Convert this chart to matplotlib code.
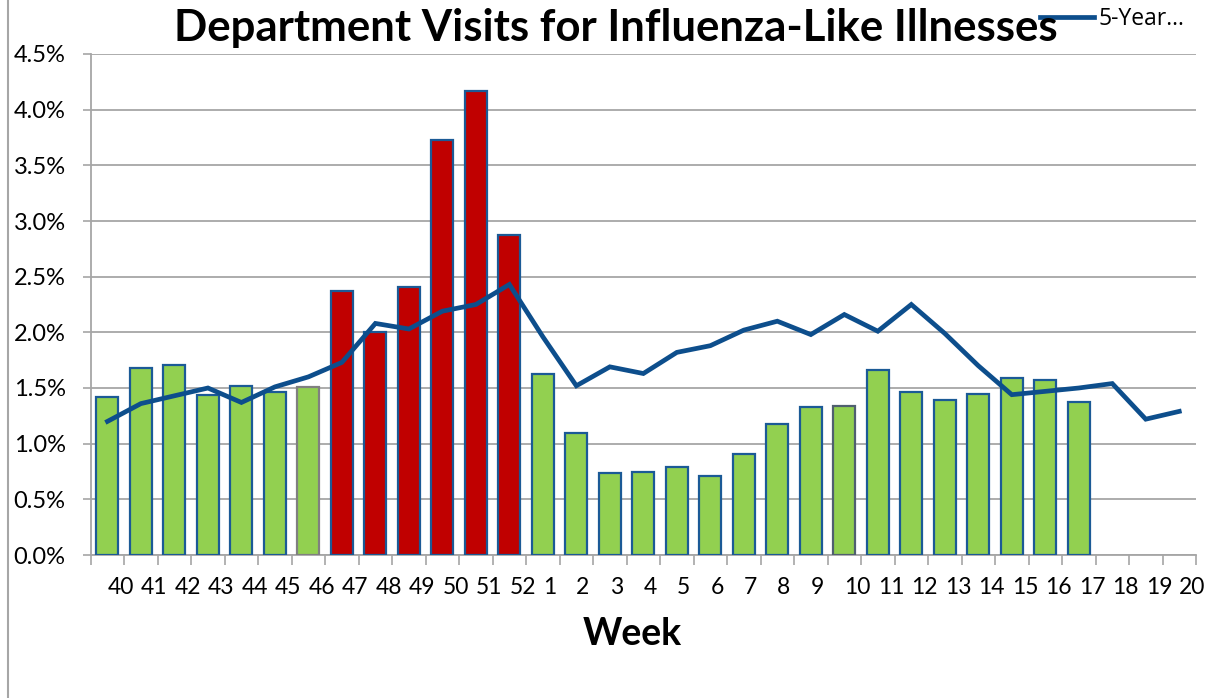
import matplotlib
matplotlib.use("Agg")
import matplotlib.pyplot as plt
from matplotlib.ticker import FuncFormatter, FixedLocator
from matplotlib.lines import Line2D

plt.rcParams['font.family'] = ['Lato', 'DejaVu Sans']

weeks = ["40", "41", "42", "43", "44", "45", "46", "47", "48", "49", "50", "51", "52",
         "1", "2", "3", "4", "5", "6", "7", "8", "9", "10", "11", "12", "13", "14",
         "15", "16", "17", "18", "19", "20"]

# current season ILI % (weeks 40..17)
current = [1.42, 1.68, 1.71, 1.44, 1.52, 1.46, 1.51, 2.37, 2.00, 2.41, 3.73, 4.17, 2.87,
           1.63, 1.10, 0.74, 0.75, 0.79, 0.71, 0.91, 1.18, 1.33, 1.34, 1.66, 1.46, 1.39,
           1.45, 1.59, 1.57, 1.37]

# 5-year average (weeks 40..20)
five_year = [1.20, 1.36, 1.43, 1.50, 1.37, 1.51, 1.60, 1.73, 2.08, 2.03, 2.19, 2.25, 2.43,
             1.96, 1.52, 1.69, 1.63, 1.82, 1.88, 2.02, 2.10, 1.98, 2.16, 2.01, 2.25, 1.99,
             1.70, 1.44, 1.47, 1.50, 1.54, 1.22, 1.29]

high_weeks = ["47", "48", "49", "50", "51", "52"]

y_ticks = [0, 0.5, 1.0, 1.5, 2.0, 2.5, 3.0, 3.5, 4.0, 4.5]

W, H = 1209, 698
fig = plt.figure(figsize=(W / 100, H / 100), dpi=100)
ax = fig.add_axes([90.7 / W, 1 - 555 / H, (1196 - 90.7) / W, (555 - 54) / H])

green = "#92D050"
red = "#C00000"
edge = "#1B5A96"
grid_c = "#A6A6A6"

n = len(weeks)
xs = list(range(n))
bar_colors = [red if weeks[i] in high_weeks else green for i in range(len(current))]
edge_colors = [edge] * len(current)
edge_colors[6] = "#808080"
edge_colors[22] = "#4F5F6F"

ax.bar(xs[:len(current)], current, width=0.66, color=bar_colors,
       edgecolor=edge_colors, linewidth=1.6, zorder=3)
line, = ax.plot(xs, five_year, color="#0D4E8C", linewidth=3.4, zorder=4,
                solid_joinstyle='miter')

ax.set_xlim(-0.5, n - 0.5)
ax.set_ylim(0, 4.5)
ax.set_yticks(y_ticks)
ax.yaxis.set_major_formatter(FuncFormatter(lambda v, p: f"{v:.1f}%"))
ax.grid(axis='y', color=grid_c, linewidth=1.3, zorder=0)
ax.set_axisbelow(True)

# x ticks: marks at category boundaries, labels left-aligned at centers
ax.xaxis.set_major_locator(FixedLocator([i - 0.5 for i in range(n + 1)]))
ax.xaxis.set_major_formatter(FuncFormatter(lambda v, p: ""))
ax.xaxis.set_minor_locator(FixedLocator(xs))
ax.set_xticklabels(weeks, minor=True, fontsize=16.5)
for lab in ax.get_xticklabels(minor=True):
    lab.set_horizontalalignment('left')
ax.tick_params(axis='x', which='major', length=7, width=1.2, color=grid_c, direction='out')
ax.tick_params(axis='x', which='minor', length=0, pad=16)
ax.tick_params(axis='y', length=6, width=1.2, color=grid_c, labelsize=17, pad=12)

for s in ['top', 'right']:
    ax.spines[s].set_visible(False)
for s in ['left', 'bottom']:
    ax.spines[s].set_color(grid_c)
    ax.spines[s].set_linewidth(1.3)

fig.text(616 / W, 1 - 28 / H, "Department Visits for Influenza-Like Illnesses",
         ha='center', va='center', fontsize=31.5, fontweight='bold')
fig.text(632 / W, 1 - 634 / H, "Week", ha='center', va='center',
         fontsize=27, fontweight='bold')

ax.legend(handles=[line], labels=["5-Year…"], loc='center left',
          bbox_to_anchor=(1040 / W, 1 - 19 / H), bbox_transform=fig.transFigure,
          frameon=False, prop={'family': ['Open Sans', 'DejaVu Sans'], 'size': 16.5},
          handlelength=2.35, handletextpad=0.22, borderpad=0, borderaxespad=0)

fig.add_artist(Line2D([8 / W, 8 / W], [0, 1], transform=fig.transFigure,
                      color="#A6A6A6", linewidth=1.5))

fig.savefig("out.png", dpi=100)
